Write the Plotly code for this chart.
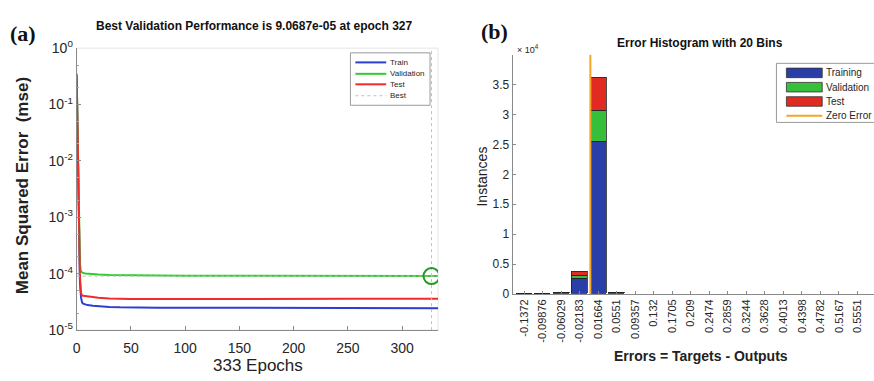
import plotly.graph_objects as go

# ---------------- data: (a) training performance ----------------
epochs = [0, 1, 2, 3, 4, 5, 6, 8, 10, 15, 20, 30, 40, 50, 75, 100, 150, 200, 250, 300, 333]
train_mse = [0.30, 0.012, 4e-4, 7e-5, 3.8e-5, 3.1e-5, 2.95e-5, 2.85e-5, 2.78e-5, 2.7e-5, 2.64e-5,
             2.58e-5, 2.54e-5, 2.52e-5, 2.5e-5, 2.5e-5, 2.48e-5, 2.47e-5, 2.46e-5, 2.45e-5, 2.45e-5]
val_mse = [0.33, 0.015, 6e-4, 1.5e-4, 1.08e-4, 1.05e-4, 1.03e-4, 1.01e-4, 1.0e-4, 9.8e-5, 9.65e-5,
           9.5e-5, 9.4e-5, 9.35e-5, 9.3e-5, 9.25e-5, 9.2e-5, 9.15e-5, 9.1e-5, 9.08e-5, 9.07e-5]
test_mse = [0.35, 0.014, 5e-4, 9e-5, 4.6e-5, 4.1e-5, 4.05e-5, 4.0e-5, 3.95e-5, 3.85e-5, 3.75e-5,
            3.62e-5, 3.55e-5, 3.55e-5, 3.55e-5, 3.57e-5, 3.58e-5, 3.6e-5, 3.6e-5, 3.6e-5, 3.6e-5]
best_epoch = 327
best_perf = 9.0687e-05
x_ticks_a = [0, 50, 100, 150, 200, 250, 300]
y_ticks_a = [1e-5, 1e-4, 1e-3, 1e-2, 1e-1, 1]
y_ticktext_a = ["10<sup>-5</sup>", "10<sup>-4</sup>", "10<sup>-3</sup>", "10<sup>-2</sup>",
                "10<sup>-1</sup>", "10<sup>0</sup>"]
legend_a_names = ["Train", "Validation", "Test", "Best"]

# ---------------- data: (b) error histogram ----------------
bin_centers = [-0.1372, -0.09876, -0.06029, -0.02183, 0.01664, 0.0551, 0.09357, 0.132, 0.1705,
               0.209, 0.2474, 0.2859, 0.3244, 0.3628, 0.4013, 0.4398, 0.4782, 0.5167, 0.5551, 0.5936]
bin_labels = ["-0.1372", "-0.09876", "-0.06029", "-0.02183", "0.01664", "0.0551", "0.09357", "0.132",
              "0.1705", "0.209", "0.2474", "0.2859", "0.3244", "0.3628", "0.4013", "0.4398",
              "0.4782", "0.5167", "0.5551", "0.5936"]
hist_train = [40, 60, 110, 2500, 25400, 170, 0, 0, 0, 0, 0, 0, 0, 0, 0, 0, 0, 0, 0, 0]
hist_val = [10, 15, 25, 570, 5300, 40, 0, 0, 0, 0, 0, 0, 0, 0, 0, 0, 0, 0, 0, 0]
hist_test = [10, 15, 25, 700, 5500, 40, 0, 0, 0, 0, 0, 0, 0, 0, 0, 0, 0, 0, 0, 0]
zero_error = 0
y_ticks_b = [0, 5000, 10000, 15000, 20000, 25000, 30000, 35000]
y_ticktext_b = ["0", "0.5", "1", "1.5", "2", "2.5", "3", "3.5"]
legend_b_names = ["Training", "Validation", "Test", "Zero Error"]

W, H = 874, 381
FONT = "Liberation Sans, Arial, sans-serif"
TXT = "#262626"
C_TRAIN, C_VAL, C_TEST, C_BEST = "#2b3fd0", "#2ecc2e", "#ee2c2c", "#c0c0c0"
B_TRAIN, B_VAL, B_TEST, C_ZERO = "#2a3ea8", "#36bf3a", "#e02a22", "#f5a623"


def px(x):
    return x / W


def py(y):
    return (H - y) / H


def nz(vals):
    return [v if v else None for v in vals]


fig = go.Figure()

# (a) lines
for vals, col in [(train_mse, C_TRAIN), (val_mse, C_VAL), (test_mse, C_TEST)]:
    fig.add_trace(go.Scatter(x=epochs, y=vals, mode="lines", showlegend=False,
                             line=dict(color=col, width=2), xaxis="x", yaxis="y"))
fig.add_trace(go.Scatter(x=[best_epoch, best_epoch, None, epochs[0], epochs[-1]],
                         y=[1e-5, 1, None, best_perf, best_perf], mode="lines", showlegend=False,
                         line=dict(color=C_BEST, width=1, dash="dot"), xaxis="x", yaxis="y"))
fig.add_trace(go.Scatter(x=[best_epoch], y=[best_perf], mode="markers", showlegend=False,
                         marker=dict(symbol="circle-open", size=16, color="#229922",
                                     line=dict(width=2, color="#229922")),
                         xaxis="x", yaxis="y"))

# (b) stacked histogram
for vals, col in [(hist_train, B_TRAIN), (hist_val, B_VAL), (hist_test, B_TEST)]:
    fig.add_trace(go.Bar(x=bin_centers, y=nz(vals), showlegend=False, marker_color=col,
                         marker_line=dict(color="#222", width=0.8), width=0.034,
                         xaxis="x2", yaxis="y2"))
fig.add_trace(go.Scatter(x=[zero_error, zero_error], y=[0, 40000], mode="lines", showlegend=False,
                         line=dict(color=C_ZERO, width=2), xaxis="x2", yaxis="y2"))

ax_common = dict(showgrid=False, zeroline=False, showline=True, linecolor="#8a8a8a", linewidth=1,
                 ticks="inside", tickcolor="#8a8a8a", color=TXT)

shapes = [
    dict(type="rect", xref="paper", yref="paper", x0=px(73), x1=px(436), y0=py(336), y1=py(40),
         line=dict(color="#e4e4e4", width=1), layer="below"),
    # legend (a) box
    dict(type="rect", xref="paper", yref="paper", x0=px(348), x1=px(428), y0=py(100), y1=py(45),
         line=dict(color="#9a9a9a", width=1), fillcolor="white"),
    # legend (b) box
    dict(type="rect", xref="paper", yref="paper", x0=px(776), x1=px(890), y0=py(118), y1=py(56),
         line=dict(color="#9a9a9a", width=1), fillcolor="white"),
]
annotations = []

rows_a = [55, 67, 78, 90]
for name, col, yy in zip(legend_a_names, [C_TRAIN, C_VAL, C_TEST, C_BEST], rows_a):
    shapes.append(dict(type="line", xref="paper", yref="paper", x0=px(353), x1=px(384),
                       y0=py(yy), y1=py(yy),
                       line=dict(color=col, width=2 if name != "Best" else 1,
                                 dash="solid" if name != "Best" else "dot")))
    annotations.append(dict(text=name, x=px(386), y=py(yy), xref="paper", yref="paper",
                            xanchor="left", yanchor="middle", showarrow=False,
                            font=dict(size=8, color=TXT)))

rows_b = [66, 81, 96, 111]
for name, col, yy in zip(legend_b_names, [B_TRAIN, B_VAL, B_TEST, C_ZERO], rows_b):
    if name == "Zero Error":
        shapes.append(dict(type="line", xref="paper", yref="paper", x0=px(786), x1=px(822),
                           y0=py(yy), y1=py(yy), line=dict(color=col, width=2)))
    else:
        shapes.append(dict(type="rect", xref="paper", yref="paper", x0=px(786), x1=px(822),
                           y0=py(yy + 5), y1=py(yy - 5), fillcolor=col,
                           line=dict(color="#333", width=0.8)))
    annotations.append(dict(text=name, x=px(824), y=py(yy), xref="paper", yref="paper",
                            xanchor="left", yanchor="middle", showarrow=False,
                            font=dict(size=10, color=TXT)))

annotations += [
    dict(text="<b>(a)</b>", x=px(4), y=py(25), xref="paper", yref="paper", xanchor="left",
         yanchor="middle", showarrow=False,
         font=dict(family="Liberation Serif, Times New Roman, serif", size=22, color="#111")),
    dict(text="<b>Best Validation Performance is 9.0687e-05 at epoch 327</b>", x=px(251),
         y=py(17), xref="paper", yref="paper", xanchor="center", yanchor="middle",
         showarrow=False, font=dict(size=12, color="#111")),
    dict(text="<b>Mean Squared Error  (mse)</b>", x=px(18), y=py(184), xref="paper",
         yref="paper", xanchor="center", yanchor="middle", textangle=-90, showarrow=False,
         font=dict(size=17, color="#222")),
    dict(text="333 Epochs", x=px(255), y=py(373), xref="paper", yref="paper",
         xanchor="center", yanchor="middle", showarrow=False,
         font=dict(size=17, color="#222")),
    dict(text="<b>(b)</b>", x=px(477), y=py(23), xref="paper", yref="paper", xanchor="left",
         yanchor="middle", showarrow=False,
         font=dict(family="Liberation Serif, Times New Roman, serif", size=22, color="#111")),
    dict(text="× 10<sup>4</sup>", x=px(513), y=py(41), xref="paper", yref="paper",
         xanchor="left", yanchor="middle", showarrow=False, font=dict(size=9, color=TXT)),
    dict(text="<b>Error Histogram with 20 Bins</b>", x=px(699), y=py(35), xref="paper",
         yref="paper", xanchor="center", yanchor="middle", showarrow=False,
         font=dict(size=12, color="#111")),
    dict(text="Instances", x=px(480), y=py(175), xref="paper", yref="paper",
         xanchor="center", yanchor="middle", textangle=-90, showarrow=False,
         font=dict(size=14, color="#222")),
    dict(text="<b>Errors = Targets - Outputs</b>", x=px(700), y=py(363), xref="paper",
         yref="paper", xanchor="center", yanchor="middle", showarrow=False,
         font=dict(size=14, color="#222")),
]

fig.update_layout(
    width=W, height=H, margin=dict(l=0, r=0, t=0, b=0),
    paper_bgcolor="white", plot_bgcolor="white",
    font=dict(family=FONT, color=TXT),
    barmode="stack", bargap=0, showlegend=False,
    xaxis=dict(domain=[px(73), px(436)], range=[0, 333], tickvals=x_ticks_a, ticklen=4,
               tickfont=dict(size=14), ticklabelstandoff=5, anchor="y", **ax_common),
    yaxis=dict(domain=[py(336), py(40)], type="log", range=[-5, 0], tickvals=y_ticks_a,
               ticktext=y_ticktext_a, ticklen=4, tickfont=dict(size=14), anchor="x",
               minor=dict(ticks="inside", ticklen=2, tickcolor="#aaaaaa"), **ax_common),
    xaxis2=dict(domain=[px(511), 1.0], range=[-0.1615, 0.5895], tickvals=bin_centers,
                ticktext=bin_labels, tickangle=-90, ticklen=3, tickfont=dict(size=11),
                anchor="y2", **ax_common),
    yaxis2=dict(domain=[py(298), py(47)], range=[0, 40000], tickvals=y_ticks_b,
                ticktext=y_ticktext_b, ticklen=3, tickfont=dict(size=12), anchor="x2",
                **ax_common),
    shapes=shapes,
    annotations=annotations,
)

fig.write_html("out.html")
